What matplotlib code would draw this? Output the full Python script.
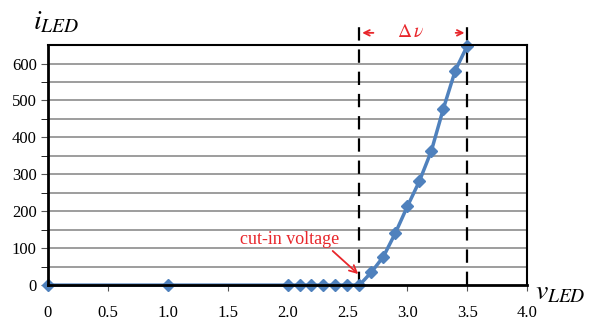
import numpy as np
import matplotlib
matplotlib.use("Agg")
import matplotlib.pyplot as plt

# LED current vs voltage
v_led = [0.0, 1.0, 2.0, 2.1, 2.2, 2.3, 2.4, 2.5, 2.6, 2.7, 2.8, 2.9, 3.0, 3.1, 3.2, 3.3, 3.4, 3.5]
i_led = [0, 0, 0, 0, 0, 0, 0, 0, 0, 35, 77, 141, 213, 281, 363, 477, 581, 648]
x_ticks = [0, 0.5, 1.0, 1.5, 2.0, 2.5, 3.0, 3.5, 4.0]
x_labels = ["0", "0.5", "1.0", "1.5", "2.0", "2.5", "3.0", "3.5", "4.0"]
y_ticks = [0, 100, 200, 300, 400, 500, 600]
v_cutin = 2.6
v_top = 3.5

plt.rcParams["font.family"] = ["Liberation Serif", "DejaVu Serif"]
plt.rcParams["mathtext.fontset"] = "stix"

fig = plt.figure(figsize=(5.91, 3.24), dpi=100)
ax = fig.add_axes([0.081, 0.120, 0.811, 0.741])

ax.set_xlim(0, 4.0)
ax.set_ylim(0, 650)

# horizontal gridlines every 50
for y in np.arange(50, 650, 50):
    ax.axhline(y, color="#959595", lw=1.3, zorder=1)

ax.plot(v_led, i_led, color="#4f81bd", lw=2.5, marker="D", markersize=6.5,
        zorder=4, clip_on=False)

# dashed guides
for xv in (v_cutin, v_top):
    ax.plot([xv, xv], [0, 705], color="black", lw=1.6, ls=(0, (6, 4)),
            clip_on=False, zorder=3)

ax.set_xticks(x_ticks)
ax.set_xticklabels(x_labels)
ax.set_yticks(y_ticks)
ax.set_yticks(np.arange(50, 650, 100), minor=True)
ax.tick_params(axis="both", labelsize=12, direction="out", color="#555555")
ax.tick_params(axis="x", length=4, pad=10)
ax.tick_params(axis="y", which="both", length=5, pad=3)

for side in ("left", "bottom"):
    ax.spines[side].set_linewidth(2.0)
for side in ("top", "right"):
    ax.spines[side].set_linewidth(1.5)
for s in ax.spines.values():
    s.set_zorder(5)

# delta-v arrows
ax.annotate("", xy=(v_cutin, 683), xytext=(v_cutin + 0.14, 683),
            arrowprops=dict(arrowstyle="->", color="#e8262b", lw=1.3),
            annotation_clip=False)
ax.annotate("", xy=(v_top, 683), xytext=(v_top - 0.12, 683),
            arrowprops=dict(arrowstyle="->", color="#e8262b", lw=1.3),
            annotation_clip=False)
ax.text((v_cutin + v_top) / 2 - 0.02, 683, r"$\Delta\,\nu$", color="#e8262b",
        fontsize=14, ha="center", va="center")

# cut-in voltage label
ax.annotate("cut-in voltage", xy=(2.59, 30), xytext=(2.02, 123),
            color="#e8262b", fontsize=13, ha="center", va="center",
            arrowprops=dict(arrowstyle="->", color="#e8262b", lw=1.3,
                            shrinkA=0, shrinkB=0,
                            relpos=(0.9, 0.0)))

fig.text(0.055, 0.93, r"$i_{LED}$", fontsize=20, ha="left", va="center")
fig.text(0.905, 0.095, r"$v_{LED}$", fontsize=20, ha="left", va="center")

fig.savefig("out.png", dpi=100)
